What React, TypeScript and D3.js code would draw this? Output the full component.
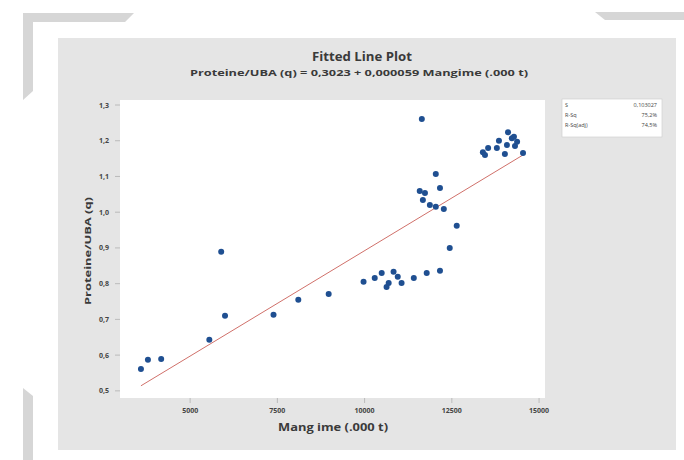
import React from "react";
import * as d3 from "d3";

const W = 684, H = 460;

const mangime = [3590, 3790, 4170, 5550, 5890, 6000, 7390, 8100, 8970,
  9970, 10290, 10490, 10630, 10690, 10830, 10950, 11060, 11410, 11780, 12160, 12440, 12640,
  11640, 12040, 12160, 11580, 11730, 11670, 11870, 12040, 12270,
  13390, 13450, 13540, 13790, 13850, 14020, 14110, 14220, 14280, 14080, 14310, 14370, 14540];
const proteine = [0.561, 0.587, 0.589, 0.643, 0.889, 0.710, 0.713, 0.755, 0.771,
  0.805, 0.816, 0.830, 0.791, 0.802, 0.833, 0.819, 0.802, 0.816, 0.830, 0.836, 0.900, 0.962,
  1.261, 1.107, 1.068, 1.059, 1.054, 1.034, 1.020, 1.015, 1.009,
  1.168, 1.160, 1.180, 1.180, 1.200, 1.163, 1.224, 1.207, 1.211, 1.188, 1.185, 1.197, 1.166];

const xTicks = [5000, 7500, 10000, 12500, 15000];
const xTickLabels = ["5000", "7500", "10000", "12500", "15000"];
const yTicks = [0.5, 0.6, 0.7, 0.8, 0.9, 1.0, 1.1, 1.2, 1.3];
const yTickLabels = ["0,5", "0,6", "0,7", "0,8", "0,9", "1,0", "1,1", "1,2", "1,3"];
const intercept = 0.3023;
const slope = 0.000059;
const fitRange = [3590, 14540];
const statNames = ["S", "R-Sq", "R-Sq(adj)"];
const statValues = ["0,103027", "75,2%", "74,5%"];

const font = "'Open Sans', 'DejaVu Sans', sans-serif";

export default function App() {
  const x = d3.scaleLinear().domain([2990, 15170]).range([120, 545]);
  const y = d3.scaleLinear().domain([0.48, 1.314]).range([398, 100]);
  const fitLine = d3.line<number>().x((d) => x(d)).y((d) => y(intercept + slope * d));

  return (
    <svg width={W} height={H} style={{ position: "absolute", left: 0, top: 0 }}>
      <rect width={W} height={H} fill="#ffffff" />
      {/* decorative corners */}
      <polygon points="23,13 134,13 125,22 33,22 33,91 23,100" fill="#d6d6d6" />
      <polygon points="595,12 684,12 684,20 605,20" fill="#d6d6d6" />
      <polygon points="23,388 33,396 33,460 23,460" fill="#d6d6d6" />
      {/* panel */}
      <rect x={58} y={38} width={618} height={412} fill="#e5e5e5" />
      <rect x={120} y={100} width={425} height={298} fill="#ffffff" />

      <text x={362} y={61} textAnchor="middle" fontFamily={font} fontWeight="bold" fontSize={12.5} fill="#3a3a3a" textLength={100} lengthAdjust="spacingAndGlyphs">Fitted Line Plot</text>
      <text x={359} y={76} textAnchor="middle" fontFamily={font} fontWeight="bold" fontSize={9.5} fill="#3a3a3a" textLength={338} lengthAdjust="spacingAndGlyphs">Proteine/UBA (q) = 0,3023 + 0,000059 Mangime (.000 t)</text>

      {/* y axis */}
      {yTicks.map((t, i) => (
        <g key={"y" + i}>
          <line x1={115} x2={120} y1={y(t)} y2={y(t)} stroke="#b0b0b0" strokeWidth={0.8} />
          <text x={109} y={y(t) + 2.5} textAnchor="end" fontFamily={font} fontWeight="bold" fontSize={7} fill="#444">{yTickLabels[i]}</text>
        </g>
      ))}
      {/* x axis */}
      {xTicks.map((t, i) => (
        <g key={"x" + i}>
          <line x1={x(t)} x2={x(t)} y1={398} y2={403} stroke="#b0b0b0" strokeWidth={0.8} />
          <text x={x(t)} y={413} textAnchor="middle" fontFamily={font} fontWeight="bold" fontSize={7} fill="#444">{xTickLabels[i]}</text>
        </g>
      ))}
      <text x={333} y={431} textAnchor="middle" fontFamily={font} fontWeight="bold" fontSize={10} fill="#3a3a3a" textLength={110} lengthAdjust="spacingAndGlyphs">Mang ime (.000 t)</text>
      <text transform="translate(91,251) rotate(-90)" textAnchor="middle" fontFamily={font} fontWeight="bold" fontSize={9.5} fill="#3a3a3a" textLength={108} lengthAdjust="spacingAndGlyphs">Proteine/UBA (q)</text>

      {/* fitted line */}
      <path d={fitLine(fitRange) || ""} stroke="#d0706a" strokeWidth={1} fill="none" />
      {/* points */}
      {mangime.map((v, i) => (
        <circle key={"p" + i} cx={x(v)} cy={y(proteine[i])} r={3} fill="#1f4f91" />
      ))}

      {/* legend */}
      <rect x={562} y={99} width={100} height={38} fill="#ffffff" stroke="#d0d0d0" strokeWidth={0.7} />
      {statNames.map((s, i) => (
        <g key={"s" + i}>
          <text x={565} y={107 + i * 10} fontFamily={font} fontSize={5.5} fill="#444">{s}</text>
          <text x={657} y={107 + i * 10} textAnchor="end" fontFamily={font} fontSize={5.5} fill="#444">{statValues[i]}</text>
        </g>
      ))}
    </svg>
  );
}
